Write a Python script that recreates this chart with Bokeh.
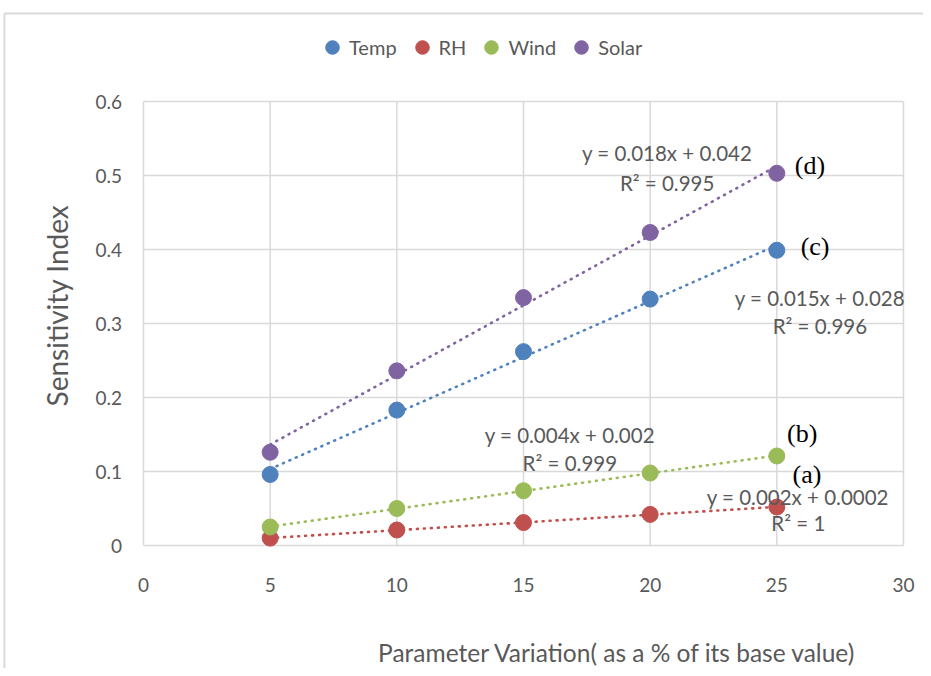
from bokeh.plotting import figure
from bokeh.models import Legend, LegendItem, Label
from bokeh.embed import file_html
from bokeh.resources import INLINE
import numpy as np
import math

# ---- data ----
x_vals = [5, 10, 15, 20, 25]
temp = [0.096, 0.183, 0.262, 0.333, 0.399]
rh = [0.010, 0.021, 0.031, 0.042, 0.052]
wind = [0.025, 0.050, 0.074, 0.098, 0.121]
solar = [0.126, 0.236, 0.335, 0.423, 0.503]
series_names = ["Temp", "RH", "Wind", "Solar"]
equations = ["y = 0.015x + 0.028", "y = 0.002x + 0.0002", "y = 0.004x + 0.002", "y = 0.018x + 0.042"]
r2_texts = ["R² = 0.996", "R² = 1", "R² = 0.999", "R² = 0.995"]
tags = ["(c)", "(a)", "(b)", "(d)"]
x_ticks = [0, 5, 10, 15, 20, 25, 30]
y_ticks = [0, 0.1, 0.2, 0.3, 0.4, 0.5, 0.6]
x_title = "Parameter Variation( as a % of  its base value)"
y_title = "Sensitivity Index"

# ---- styling / layout (the whole canvas is the plotting frame) ----
colors = ["#4F81BD", "#C0504D", "#9BBB59", "#8064A2"]
eq_pos = [(26.70, 0.334), (25.83, 0.066), (16.83, 0.150), (20.67, 0.530)]
r2_pos = [(26.70, 0.297), (25.85, 0.030), (16.83, 0.112), (20.67, 0.490)]
tag_pos = [(26.51, 0.404), (26.19, 0.096), (26.00, 0.151), (26.31, 0.513)]
X_RANGE = (-5.645, 30.79)
Y_RANGE = (-0.1662, 0.7365)
XTICK_LABEL_Y = -0.0527
YTICK_LABEL_X = -0.85
XTITLE_POS = (18.83, -0.1446)
YTITLE_POS = (-3.40, 0.3243)
BORDER_X = -5.49
BORDER_Y = 0.7189
FONT = "Lato"
GRAY = "#595959"
GRID = "#d9d9d9"

p = figure(width=923, height=668, x_range=X_RANGE, y_range=Y_RANGE,
           output_backend="svg", toolbar_location=None,
           min_border_left=0, min_border_right=0, min_border_top=0, min_border_bottom=0)
p.outline_line_color = None
p.background_fill_color = "white"
p.xaxis.visible = False
p.yaxis.visible = False
p.xgrid.grid_line_color = None
p.ygrid.grid_line_color = None

# chart-area border (top and left edges visible)
p.segment(x0=[BORDER_X, BORDER_X], y0=[BORDER_Y, BORDER_Y], x1=[X_RANGE[1], BORDER_X],
          y1=[BORDER_Y, Y_RANGE[0]], line_color=GRID, line_width=2)

# grid lines limited to the data box
p.segment(x0=x_ticks, y0=[y_ticks[0]] * len(x_ticks), x1=x_ticks, y1=[y_ticks[-1]] * len(x_ticks),
          line_color=GRID, line_width=1.5)
p.segment(x0=[x_ticks[0]] * len(y_ticks), y0=y_ticks, x1=[x_ticks[-1]] * len(y_ticks), y1=y_ticks,
          line_color=GRID, line_width=1.5)

# tick labels
for t in x_ticks:
    p.add_layout(Label(x=t, y=XTICK_LABEL_Y, text=str(t), text_font=FONT, text_font_size="19px",
                       text_color=GRAY, text_align="center", text_baseline="middle"))
for t in y_ticks:
    p.add_layout(Label(x=YTICK_LABEL_X, y=t, text=("0" if t == 0 else f"{t:g}"), text_font=FONT,
                       text_font_size="19px", text_color=GRAY, text_align="right",
                       text_baseline="middle"))

all_series = [temp, rh, wind, solar]
items = []
for name, ys, col, eq, r2, tg, ep, rp, tp in zip(series_names, all_series, colors, equations,
                                                  r2_texts, tags, eq_pos, r2_pos, tag_pos):
    xs = np.array(x_vals, dtype=float)
    slope, icpt = np.polyfit(xs, np.array(ys), 1)
    fit_x = [xs.min(), xs.max()]
    fit_y = [slope * v + icpt for v in fit_x]
    p.line(fit_x, fit_y, line_color=col, line_width=2.6, line_dash="1 6", line_cap="round")
    r = p.scatter(x_vals, ys, size=16, fill_color=col, line_color=col, marker="circle")
    items.append(LegendItem(label=name, renderers=[r]))
    p.add_layout(Label(x=ep[0], y=ep[1], text=eq, text_font=FONT, text_font_size="20.5px",
                       text_color=GRAY, text_align="center", text_baseline="middle"))
    p.add_layout(Label(x=rp[0], y=rp[1], text=r2, text_font=FONT, text_font_size="20.5px",
                       text_color=GRAY, text_align="center", text_baseline="middle"))
    p.add_layout(Label(x=tp[0], y=tp[1], text=tg, text_font="Liberation Serif", text_font_size="26px",
                       text_color="black", text_align="center", text_baseline="middle"))

legend = Legend(items=items, orientation="horizontal", location=(315, 604),
                label_text_font=FONT, label_text_font_size="20px", label_text_color=GRAY,
                border_line_color=None, background_fill_alpha=0, glyph_width=34, glyph_height=34,
                label_standoff=0, spacing=8, margin=0, padding=0)
p.add_layout(legend, "center")

p.add_layout(Label(x=XTITLE_POS[0], y=XTITLE_POS[1], text=x_title, text_font=FONT,
                   text_font_size="24.5px", text_color=GRAY, text_align="center",
                   text_baseline="middle"))
p.add_layout(Label(x=YTITLE_POS[0], y=YTITLE_POS[1], text=y_title, text_font=FONT,
                   text_font_size="28px", text_color=GRAY, text_align="center",
                   text_baseline="middle", angle=math.pi / 2))

open("out.html", "w").write(file_html(p, INLINE))
